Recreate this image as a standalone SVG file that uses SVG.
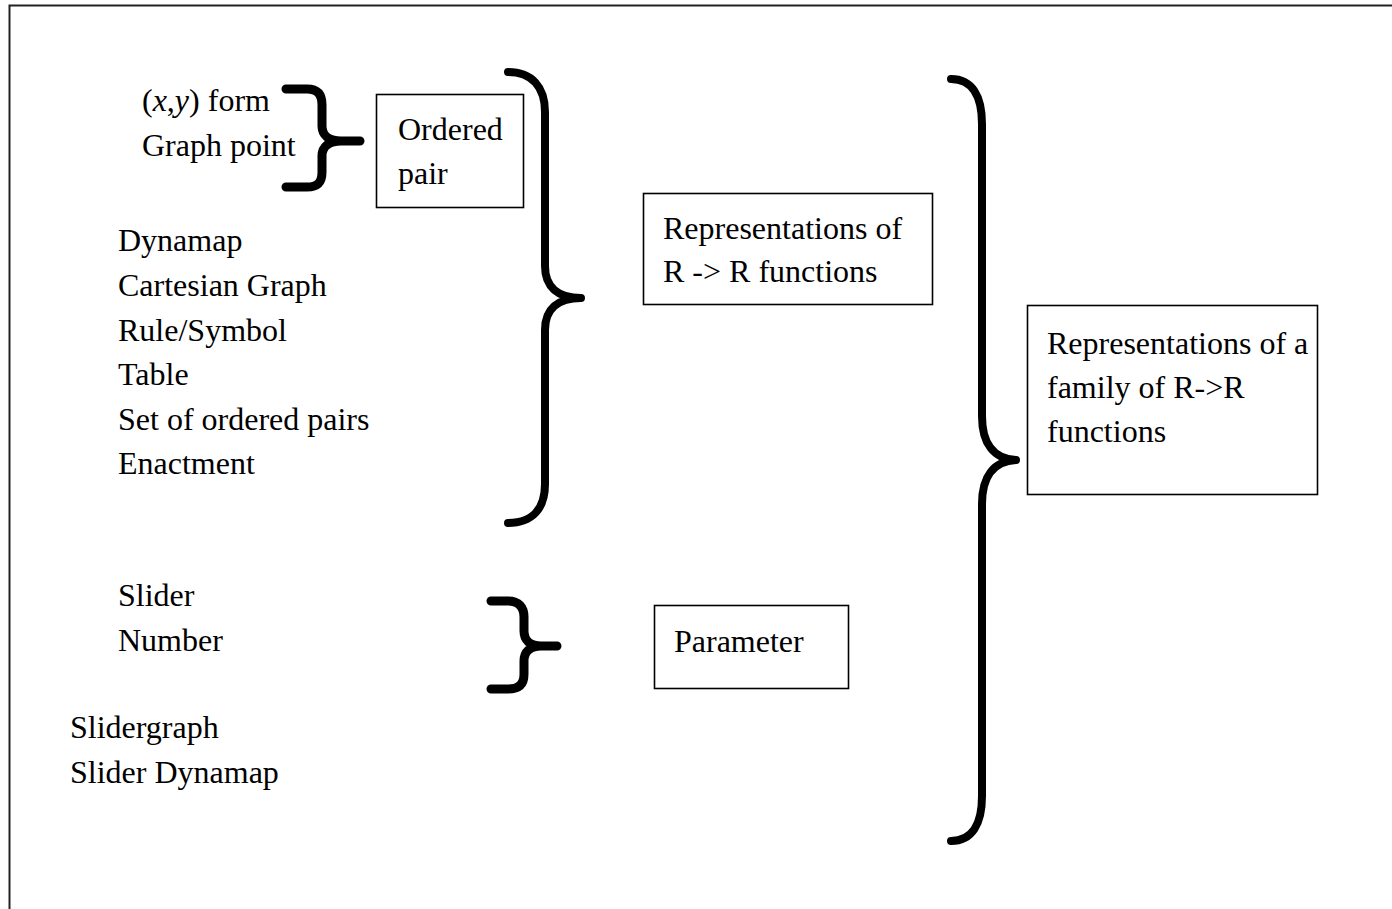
<svg xmlns="http://www.w3.org/2000/svg" width="1392" height="909" viewBox="0 0 1392 909">
<style>
text{font-family:"Liberation Serif","Times New Roman",serif;font-size:32px;fill:#000}
.box{fill:#fff;stroke:#000;stroke-width:1.6}
.brace{fill:none;stroke:#000;stroke-width:8;stroke-linecap:round;stroke-linejoin:round}
.small{stroke-width:9}
.frame{fill:none;stroke:#222;stroke-width:2}
</style>
<rect width="1392" height="909" fill="#fff"/>
<path class="frame" d="M9.5,940 L9.5,5.5 L1400,5.5"/>
<g id="labels-ordered">
<text x="142" y="111">(<tspan font-style="italic">x</tspan>,<tspan font-style="italic">y</tspan>) form</text>
<text x="142" y="156">Graph point</text>
</g>
<g id="labels-functions">
<text x="118" y="251">Dynamap</text>
<text x="118" y="296">Cartesian Graph</text>
<text x="118" y="341">Rule/Symbol</text>
<text x="118" y="385">Table</text>
<text x="118" y="430">Set of ordered pairs</text>
<text x="118" y="474">Enactment</text>
</g>
<g id="labels-parameter">
<text x="118" y="606">Slider</text>
<text x="118" y="651">Number</text>
</g>
<g id="labels-family">
<text x="70" y="738">Slidergraph</text>
<text x="70" y="783">Slider Dynamap</text>
</g>
<g id="node-ordered-pair">
<rect class="box" x="376.5" y="94.5" width="147" height="113"/>
<text x="398" y="140">Ordered</text>
<text x="398" y="184">pair</text>
</g>
<g id="node-rr-functions">
<rect class="box" x="643.5" y="193.5" width="289" height="111"/>
<text x="663" y="239">Representations of</text>
<text x="663" y="282">R -&gt; R functions</text>
</g>
<g id="node-parameter">
<rect class="box" x="654.5" y="605.5" width="194" height="83"/>
<text x="674" y="652">Parameter</text>
</g>
<g id="node-family">
<rect class="box" x="1027.5" y="305.5" width="290" height="189"/>
<text x="1047" y="354">Representations of a</text>
<text x="1047" y="398">family of R-&gt;R</text>
<text x="1047" y="442">functions</text>
</g>
<g id="connectors">
<path class="brace small" d="M286,89 L307,89 C318,89 322,95 322,105 L322,126 C322,135 329,141 341,141 L360,141 M341,141 C329,141 322,147 322,156 L322,172 C322,182 318,187 307,187 L286,187"/>
<path class="brace" d="M508,72 C532,72 545,87 545,112 L545,266 C545,287 558,298 581,298 M581,298 C558,298 545,309 545,330 L545,484 C545,509 532,523 508,523"/>
<path class="brace small" d="M491,601 L508,601 C519,601 524,607 524,617 L524,631 C524,640 530,646 541,646 L557,646 M541,646 C530,646 524,652 524,661 L524,674 C524,684 519,689 508,689 L491,689"/>
<path class="brace" d="M951,79 C972,79 982,96 982,124 L982,416 C982,444 994,459 1016,460 M1016,460 C994,461 982,476 982,504 L982,796 C982,824 972,841 951,841"/>
</g>
</svg>
